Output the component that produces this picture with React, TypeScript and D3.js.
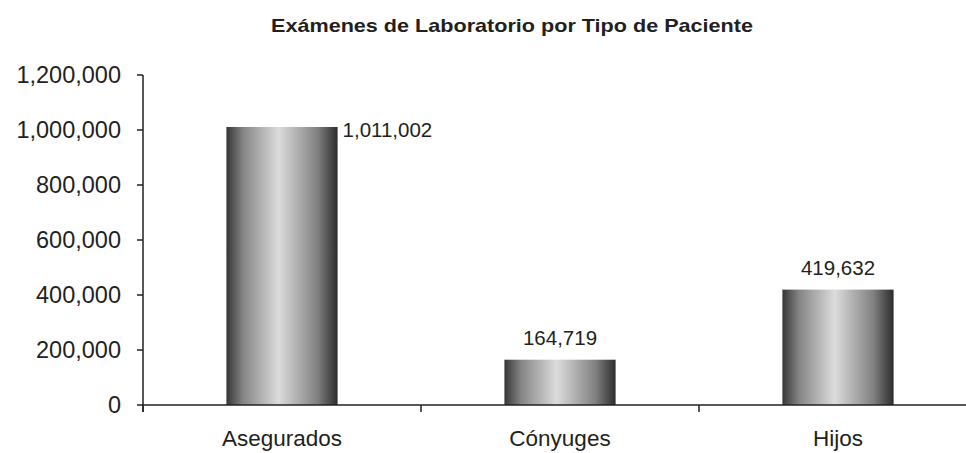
import React from "react";
import * as d3 from "d3";

const title = "Exámenes de Laboratorio por Tipo de Paciente";
const categories = ["Asegurados", "Cónyuges", "Hijos"];
const values = [1011002, 164719, 419632];
const yTicks = [0, 200000, 400000, 600000, 800000, 1000000, 1200000];

const W = 966;
const H = 453;

export default function App() {
  const x0 = 143;
  const step = 278;
  const x = d3
    .scaleBand<string>()
    .domain(categories)
    .range([x0, x0 + step * categories.length])
    .padding(0);
  const y = d3.scaleLinear().domain([0, 1200000]).range([405, 75]);
  const fmt = d3.format(",");
  const barW = x.bandwidth() * 0.4;
  const axisColor = "#231f20";
  const textColor = "#231f20";
  const font = "'Liberation Sans', Arial, sans-serif";

  return (
    <svg
      width={W}
      height={H}
      style={{ position: "absolute", left: 0, top: 0, background: "#fff" }}
    >
      <defs>
        <linearGradient id="barGrad" x1="0" x2="1" y1="0" y2="0">
          <stop offset="0" stopColor="#363636" />
          <stop offset="0.15" stopColor="#858585" />
          <stop offset="0.47" stopColor="#dcdcdc" />
          <stop offset="0.82" stopColor="#808080" />
          <stop offset="1" stopColor="#2c2c2c" />
        </linearGradient>
      </defs>
      <text
        transform={`translate(512,32) scale(1.2,1)`}
        textAnchor="middle"
        fontFamily={font}
        fontWeight="bold"
        fontSize={18}
        fill={textColor}
      >
        {title}
      </text>

      {/* bars */}
      {categories.map((c, i) => {
        const cx = (x(c) as number) + x.bandwidth() / 2;
        return (
          <rect
            key={c}
            x={cx - barW / 2}
            y={y(values[i])}
            width={barW}
            height={y(0) - y(values[i])}
            fill="url(#barGrad)"
          />
        );
      })}

      {/* y axis */}
      <line x1={x0} x2={x0} y1={y(1200000)} y2={y(0) + 7} stroke={axisColor} strokeWidth={1.5} />
      {yTicks.map((t) => (
        <g key={t}>
          <line x1={x0 - 6} x2={x0} y1={y(t)} y2={y(t)} stroke={axisColor} strokeWidth={1.5} />
          <text
            x={121}
            y={y(t)}
            dy="0.35em"
            textAnchor="end"
            fontFamily={font}
            fontSize={23.5}
            fill={textColor}
          >
            {fmt(t)}
          </text>
        </g>
      ))}

      {/* x axis */}
      <line x1={x0} x2={W} y1={y(0)} y2={y(0)} stroke={axisColor} strokeWidth={1.5} />
      {categories.map((c) => (
        <line
          key={"t" + c}
          x1={x(c) as number}
          x2={x(c) as number}
          y1={y(0)}
          y2={y(0) + 7}
          stroke={axisColor}
          strokeWidth={1.5}
        />
      ))}
      {categories.map((c) => (
        <text
          key={"l" + c}
          x={(x(c) as number) + x.bandwidth() / 2}
          y={446}
          textAnchor="middle"
          fontFamily={font}
          fontSize={22.5}
          fill={textColor}
        >
          {c}
        </text>
      ))}

      {/* value labels */}
      {categories.map((c, i) => {
        const cx = (x(c) as number) + x.bandwidth() / 2;
        const top = y(values[i]);
        const right = i === 0;
        return (
          <text
            key={"v" + c}
            x={right ? cx + barW / 2 + 5 : cx}
            y={right ? top + 10 : top - 15}
            textAnchor={right ? "start" : "middle"}
            fontFamily={font}
            fontSize={20.5}
            fill={textColor}
          >
            {fmt(values[i])}
          </text>
        );
      })}
    </svg>
  );
}
